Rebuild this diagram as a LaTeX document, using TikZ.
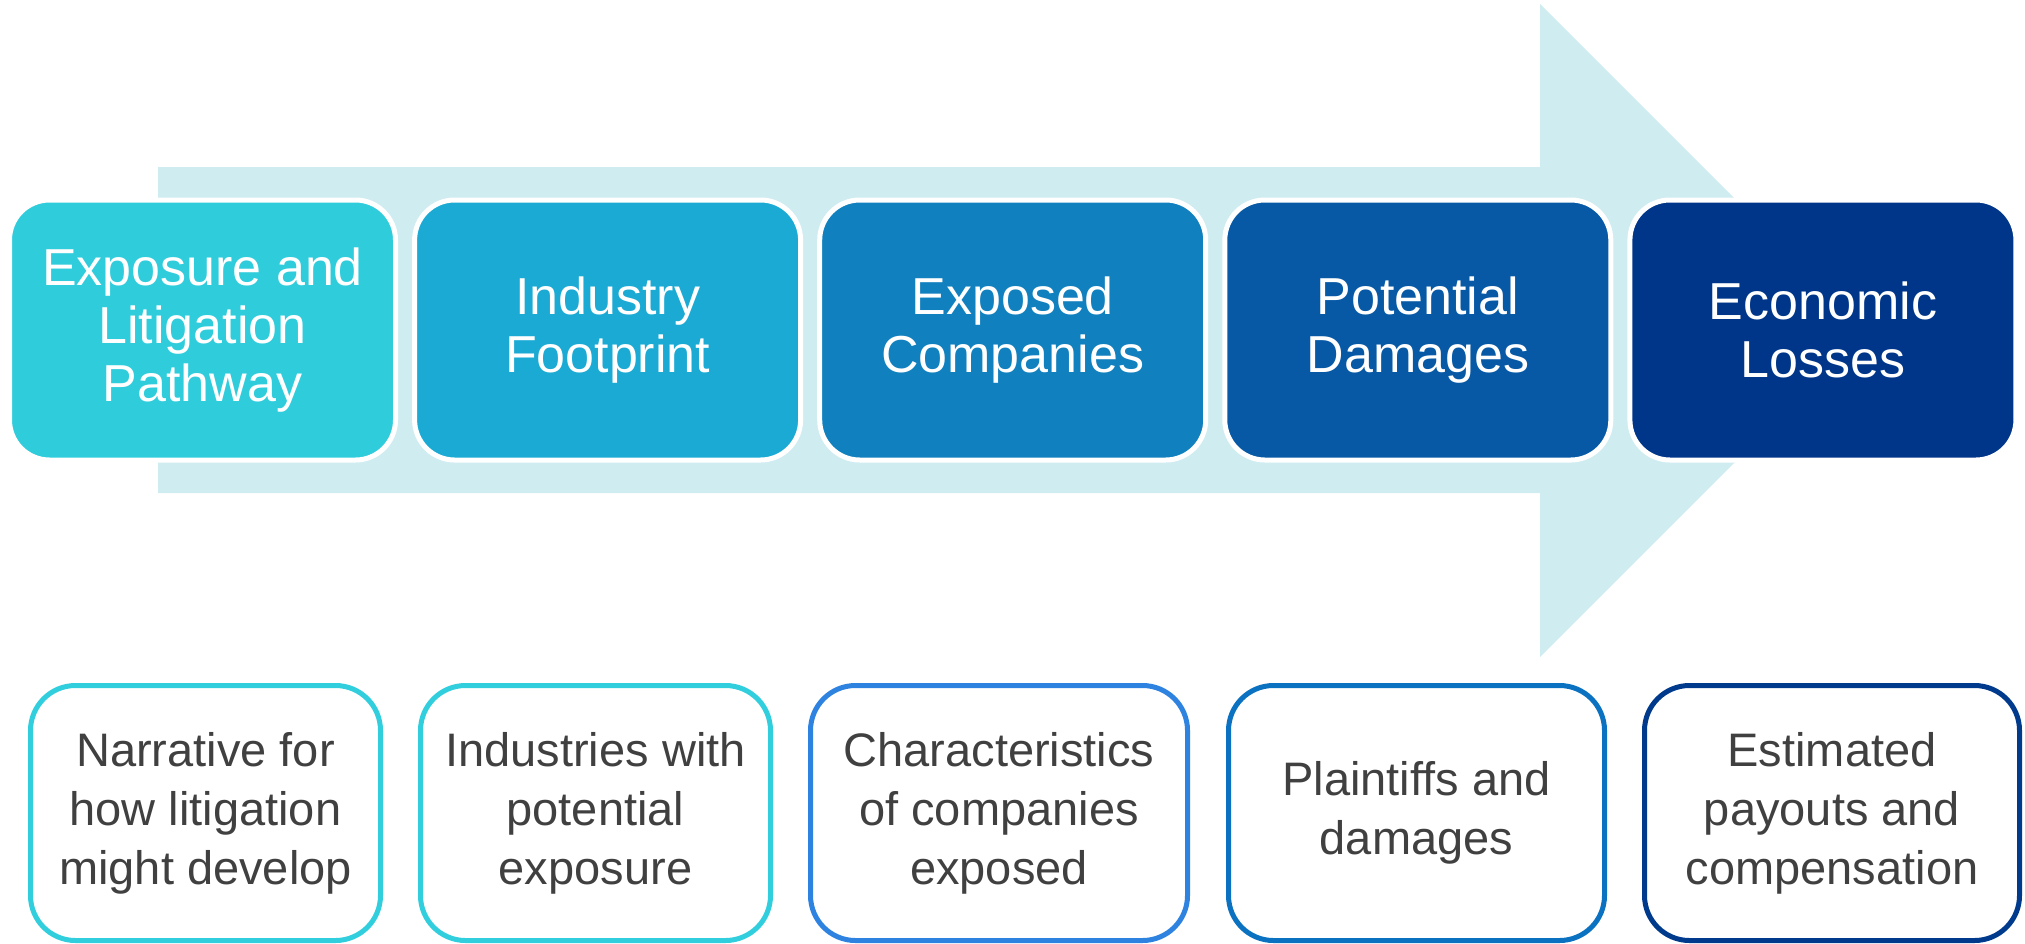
\documentclass[tikz,border=0pt]{standalone}
\usepackage{fontspec}
\setmainfont{Liberation Sans}
\definecolor{arrowc}{HTML}{CFECF1}
\definecolor{cA}{HTML}{2FCCDC}
\definecolor{cB}{HTML}{1BAAD4}
\definecolor{cC}{HTML}{1180BE}
\definecolor{cD}{HTML}{0759A6}
\definecolor{cE}{HTML}{003689}
\definecolor{sA}{HTML}{31CEDE}
\definecolor{sC}{HTML}{2E82E0}
\definecolor{sD}{HTML}{0A72C1}
\definecolor{sE}{HTML}{003A8C}
\definecolor{txt}{HTML}{404040}
\tikzset{
  topbox/.style={draw=white, line width=5pt, rounded corners=40pt, fill=#1,
    minimum width=386pt, minimum height=260pt, inner sep=0pt, align=center,
    text=white, font=\fontsize{52}{58}\selectfont},
  botbox/.style={draw=#1, line width=5pt, rounded corners=45pt, fill=white,
    minimum height=255pt, inner sep=0pt, align=center,
    text=txt, font=\fontsize{47}{59}\selectfont},
}
\begin{document}
\begin{tikzpicture}[x=1pt,y=-1pt]
\useasboundingbox (0,0) rectangle (2025,943);
% big background arrow
\fill[arrowc] (158,167) -- (1540,167) -- (1540,4) -- (1866.5,330.5)
  -- (1540,657) -- (1540,493) -- (158,493) -- cycle;
% top boxes
\node[topbox=cA] (t1) at (202.5,330) {Exposure and\\Litigation\\Pathway};
\node[topbox=cB] (t2) at (607.6,330) {Industry\\Footprint};
\node[topbox=cC] (t3) at (1012.7,330) {Exposed\\Companies};
\node[topbox=cD] (t4) at (1417.8,330) {Potential\\Damages};
\node[topbox=cE] (t5) at (1822.9,330) {Economic\\Losses};
% bottom boxes
\node[botbox=sA, minimum width=350pt] (b1) at (205.5,813) {Narrative for\\how litigation\\might develop};
\node[botbox=sA, minimum width=350pt] (b2) at (595.5,813) {Industries with\\potential\\exposure};
\node[botbox=sC, minimum width=377pt] (b3) at (999,813) {Characteristics\\of companies\\exposed};
\node[botbox=sD, minimum width=376pt] (b4) at (1416.5,813) {Plaintiffs and\\damages};
\node[botbox=sE, minimum width=375pt] (b5) at (1832,813) {Estimated\\payouts and\\compensation};
\end{tikzpicture}
\end{document}
